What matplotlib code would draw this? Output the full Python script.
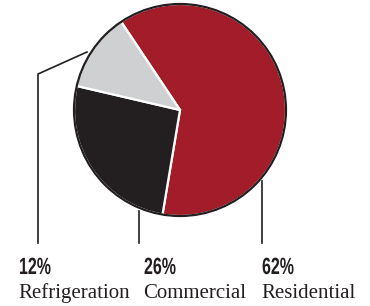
import matplotlib.pyplot as plt
from matplotlib.patches import Circle, PathPatch
from matplotlib.textpath import TextPath
from matplotlib.font_manager import FontProperties
from matplotlib.transforms import Affine2D

# data
labels = ['Residential', 'Commercial', 'Refrigeration']
shares = [62, 26, 12]
colors = ['#A31C2A', '#231F20', '#CFD0D2']

W, H = 370, 306
fig = plt.figure(figsize=(W / 100, H / 100), dpi=100)
ax = fig.add_axes([0, 0, 1, 1])

cx, cy, r = 180, H - 110, 106
ax.pie(shares, colors=colors, startangle=123.7, counterclock=False,
       center=(cx, cy), radius=r, frame=True,
       wedgeprops=dict(edgecolor='white', linewidth=1.6))
ax.add_patch(Circle((cx, cy), r, fill=False, edgecolor='#231F20', lw=1.6))
ax.set_xlim(0, W)
ax.set_ylim(0, H)
ax.set_aspect('equal')
ax.axis('off')

dark = '#231F20'


def iy(y):
    return H - y


# leader lines
ax.plot([87, 38, 38], [iy(52), iy(74), iy(243)], color=dark, lw=1.2)
ax.plot([139, 139], [iy(211), iy(243)], color=dark, lw=1.2)
ax.plot([262, 262], [iy(181), iy(243)], color=dark, lw=1.2)

# condensed bold percentages via squeezed text paths
bold = FontProperties(family='Liberation Sans', weight='bold')
label_x = {'Refrigeration': 18, 'Commercial': 143, 'Residential': 261}
for name, val in zip(labels, shares):
    x = label_x[name]
    tp = TextPath((0, 0), f'{val}%', size=23.5, prop=bold)
    tr = Affine2D().scale(0.68, 1.0).translate(x + 1, iy(274))
    ax.add_patch(PathPatch(tr.transform_path(tp), facecolor=dark,
                           edgecolor='none'))
    ax.text(x, iy(298), name, fontsize=15, family='Liberation Serif',
            color=dark, ha='left', va='baseline')

fig.savefig('out.png', dpi=100)
